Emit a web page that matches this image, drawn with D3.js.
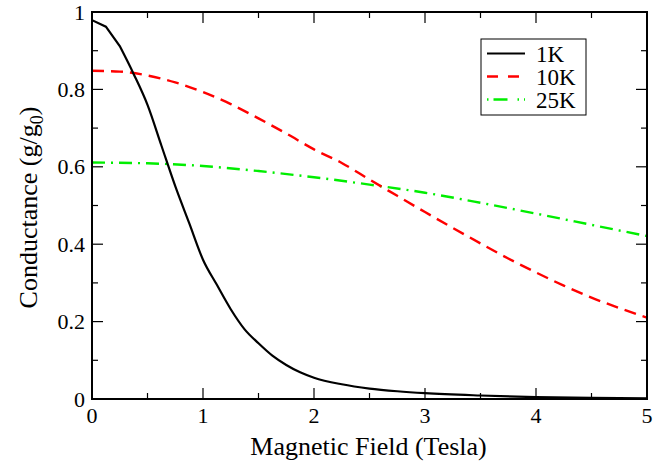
<!DOCTYPE html>
<html><head><meta charset="utf-8">
<script src="https://cdn.jsdelivr.net/npm/d3@7"></script>
</head><body style="margin:0">
<svg id="c" width="664" height="462"></svg>
<script>
const xTicks = [0,1,2,3,4,5];
const yTicks = [0,0.2,0.4,0.6,0.8,1];
const yTickLabels = ["0","0.2","0.4","0.6","0.8","1"];
const seriesNames = ["1K","10K","25K"];

const b1K = [0,0.125,0.25,0.375,0.5,0.625,0.75,0.875,1.0,1.125,1.25,1.375,1.5,1.625,1.75,1.875,2.0,2.25,2.5,2.75,3.0,3.5,4.0,4.5,5.0];
const g1K = [0.979,0.962,0.912,0.840,0.760,0.655,0.550,0.455,0.360,0.295,0.232,0.180,0.144,0.112,0.088,0.069,0.055,0.038,0.027,0.020,0.015,0.009,0.005,0.003,0.002];

const b10K = [0,0.25,0.5,0.75,1.0,1.25,1.5,1.75,2.0,2.25,2.5,2.75,3.0,3.25,3.5,3.75,4.0,4.25,4.5,4.75,5.0];
const g10K = [0.848,0.846,0.836,0.818,0.793,0.762,0.725,0.686,0.645,0.610,0.567,0.525,0.483,0.442,0.402,0.363,0.327,0.293,0.262,0.235,0.210];

const b25K = [0,0.5,1.0,1.5,2.0,2.5,3.0,3.5,4.0,4.5,5.0];
const g25K = [0.611,0.609,0.602,0.589,0.573,0.554,0.533,0.507,0.479,0.450,0.421];

const svg = d3.select("#c");
const L=92, R=647, T=12, B=399;
const x = d3.scaleLinear().domain([0,5]).range([L,R]);
const y = d3.scaleLinear().domain([0,1]).range([B,T]);

function txt(sel, size){
  return sel.append("text").style("font-family", '"Liberation Serif"').attr("font-size", size);
}

const styles = [
  {color:"#000000", dash:null, w:2.2},
  {color:"#ff0000", dash:"12,7", w:2.4},
  {color:"#00ee00", dash:"13,6,2,6", w:2.4}
];
const series = [
  b1K.map((b,i)=>[b,g1K[i]]),
  b10K.map((b,i)=>[b,g10K[i]]),
  b25K.map((b,i)=>[b,g25K[i]])
];

svg.append("defs").append("clipPath").attr("id","clip").append("rect")
  .attr("x",L).attr("y",T).attr("width",R-L).attr("height",B-T);

const g = svg.append("g").attr("clip-path","url(#clip)");
[2,1,0].forEach(i=>{
  const ln = d3.line().x(d=>x(d[0])).y(d=>y(d[1])).curve(d3.curveMonotoneX);
  const d = series[i];
  let path;
  if(i===0){
    const head = d.slice(0,3), tail = d.slice(2);
    path = d3.line().x(p=>x(p[0])).y(p=>y(p[1]))(head) + ln(tail).replace(/^M/,"L");
  } else path = ln(d);
  g.append("path").attr("d",path)
    .attr("fill","none").attr("stroke",styles[i].color)
    .attr("stroke-width",styles[i].w)
    .attr("stroke-dasharray",styles[i].dash);
});

const xMinor = d3.range(0.5,5,1);
const yMinor = d3.range(0.1,1,0.2);
const tk = svg.append("g").attr("stroke","#000").attr("stroke-width",1.2);
xTicks.forEach(v=>{
  tk.append("line").attr("x1",x(v)).attr("x2",x(v)).attr("y1",B).attr("y2",B-11);
  tk.append("line").attr("x1",x(v)).attr("x2",x(v)).attr("y1",T).attr("y2",T+11);
});
xMinor.forEach(v=>{
  tk.append("line").attr("x1",x(v)).attr("x2",x(v)).attr("y1",B).attr("y2",B-6);
  tk.append("line").attr("x1",x(v)).attr("x2",x(v)).attr("y1",T).attr("y2",T+6);
});
yTicks.forEach(v=>{
  tk.append("line").attr("y1",y(v)).attr("y2",y(v)).attr("x1",L).attr("x2",L+11);
  tk.append("line").attr("y1",y(v)).attr("y2",y(v)).attr("x1",R).attr("x2",R-11);
});
yMinor.forEach(v=>{
  tk.append("line").attr("y1",y(v)).attr("y2",y(v)).attr("x1",L).attr("x2",L+6);
  tk.append("line").attr("y1",y(v)).attr("y2",y(v)).attr("x1",R).attr("x2",R-6);
});

svg.append("rect").attr("x",L).attr("y",T).attr("width",R-L).attr("height",B-T)
  .attr("fill","none").attr("stroke","#000").attr("stroke-width",2);

xTicks.forEach(v=>{
  txt(svg,22).attr("x",x(v)).attr("y",B+24).attr("text-anchor","middle").text(String(v));
});
yTicks.forEach((v,i)=>{
  txt(svg,22).attr("x",L-7).attr("y",y(v)+7.5).attr("text-anchor","end").text(yTickLabels[i]);
});

txt(svg,26).attr("x",(L+R)/2-1).attr("y",455).attr("text-anchor","middle").text("Magnetic Field (Tesla)");
const yt = txt(svg,26).attr("transform",`translate(37,${(T+B)/2+2}) rotate(-90)`).attr("text-anchor","middle");
yt.append("tspan").text("Conductance (g/g");
yt.append("tspan").attr("font-size",18).attr("dy",6).text("0");
yt.append("tspan").attr("dy",-6).text(")");

svg.append("rect").attr("x",481).attr("y",39).attr("width",105).attr("height",76)
  .attr("fill","#fff").attr("stroke","#000").attr("stroke-width",1);
const rowsY = [53.5,76.5,99.5];
seriesNames.forEach((n,i)=>{
  svg.append("line").attr("x1",487).attr("x2",525).attr("y1",rowsY[i]).attr("y2",rowsY[i])
    .attr("stroke",styles[i].color).attr("stroke-width",styles[i].w)
    .attr("stroke-dasharray", i===1 ? "11,10" : (i===2 ? "1.5,5,14,10" : null));
  txt(svg,23).attr("x",536).attr("y",rowsY[i]+8).text(n);
});
</script></body></html>
